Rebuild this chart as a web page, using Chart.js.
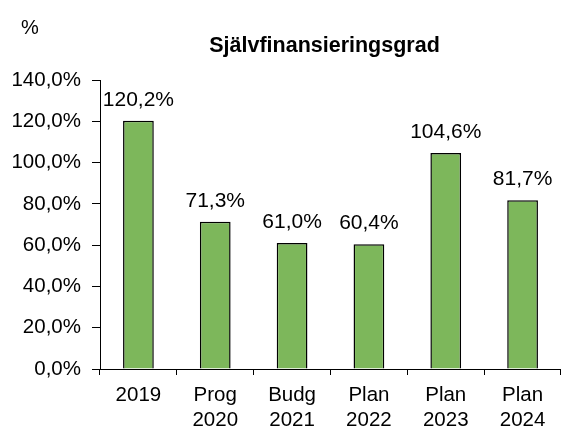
<!DOCTYPE html>
<html>
<head>
<meta charset="utf-8">
<script src="https://cdn.jsdelivr.net/npm/chart.js@4"></script>
<style>
  html, body { margin: 0; padding: 0; background: #fff; }
  #wrap { width: 561px; height: 426px; }
</style>
</head>
<body>
<div id="wrap"><canvas id="chart" width="561" height="426"></canvas></div>
<script>
const categories = [["2019"], ["Prog", "2020"], ["Budg", "2021"], ["Plan", "2022"], ["Plan", "2023"], ["Plan", "2024"]];
const values = [120.2, 71.3, 61.0, 60.4, 104.6, 81.7];
const chartTitle = "Självfinansieringsgrad";
const unitLabel = "%";

const fmt = v => v.toFixed(1).replace(".", ",") + "%";
const FONT = "'Liberation Sans', Arial, sans-serif";

// labels above bars, the title and the "%" unit
const extras = {
    id: "extras",
    afterDatasetsDraw(chart) {
        const ctx = chart.ctx;
        const area = chart.chartArea;
        ctx.save();
        ctx.fillStyle = "#000";
        ctx.textAlign = "center";
        ctx.textBaseline = "alphabetic";
        ctx.font = "21px " + FONT;
        chart.getDatasetMeta(0).data.forEach((bar, i) => {
            ctx.fillText(fmt(values[i]), bar.x, bar.y - 15);
        });
        ctx.font = "bold 21.5px " + FONT;
        ctx.fillText(chartTitle, (area.left + area.right) / 2 - 6, 52);
        ctx.font = "20px " + FONT;
        ctx.textAlign = "left";
        ctx.fillText(unitLabel, 21, 34);
        ctx.restore();
    }
};

new Chart(document.getElementById("chart").getContext("2d"), {
    type: "bar",
    data: {
        labels: categories,
        datasets: [{
            data: values,
            backgroundColor: "#7db75b",
            borderColor: "#000",
            borderWidth: 1.5,
            barPercentage: 0.4,
            categoryPercentage: 1
        }]
    },
    options: {
        responsive: false,
        animation: false,
        layout: { padding: { top: 80, right: 0, left: 0, bottom: 0 } },
        plugins: {
            legend: { display: false },
            tooltip: { enabled: false }
        },
        scales: {
            x: {
                grid: { drawOnChartArea: false, color: "#000", tickLength: 6, offset: true },
                border: { color: "#000", width: 1 },
                ticks: { color: "#000", font: { family: FONT, size: 20.5, lineHeight: 1.22 }, padding: 8, maxRotation: 0 },
                afterFit(scale) { scale.height = 57; }
            },
            y: {
                min: 0,
                max: 140,
                ticks: { stepSize: 20, color: "#000", font: { family: FONT, size: 20.5 }, padding: 11, callback: v => fmt(v) },
                grid: { drawOnChartArea: false, color: "#000", tickLength: 8 },
                border: { color: "#000", width: 1 },
                afterFit(scale) { scale.width = 100; }
            }
        }
    },
    plugins: [extras]
});
</script>
</body>
</html>
